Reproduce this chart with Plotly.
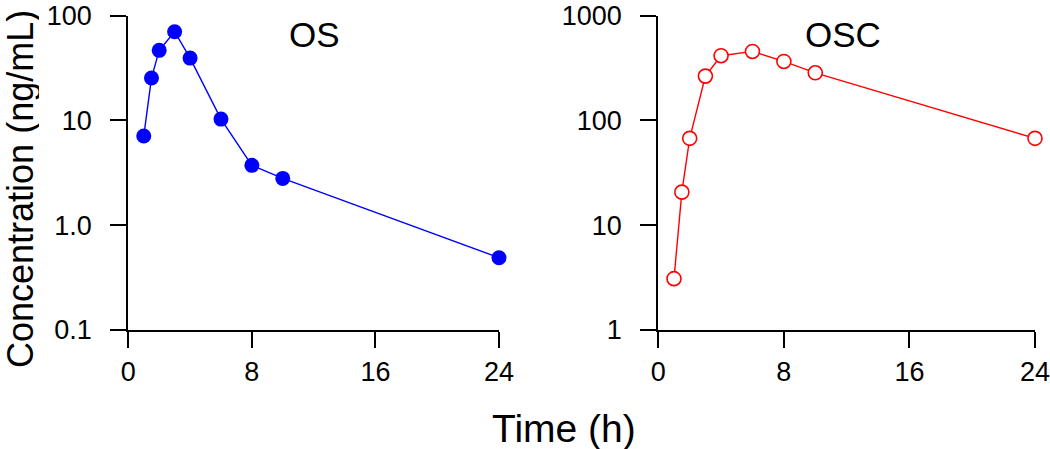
import plotly.graph_objects as go

# ---- data ----
time_h = [1, 1.5, 2, 3, 4, 6, 8, 10, 24]
os_conc = [7.1, 25.4, 46.7, 70.3, 39.4, 10.3, 3.73, 2.80, 0.49]
osc_conc = [3.09, 20.7, 67.5, 265, 415, 456, 366, 285, 67.5]

x_ticks = [0, 8, 16, 24]
x_ticktext = ["0", "8", "16", "24"]
os_yticks = [0.1, 1, 10, 100]
os_yticktext = ["0.1", "1.0", "10", "100"]
osc_yticks = [1, 10, 100, 1000]
osc_yticktext = ["1", "10", "100", "1000"]

W, H = 1050, 449
FONT = "Liberation Sans, Arial, sans-serif"

fig = go.Figure()
fig.add_trace(go.Scatter(
    x=time_h, y=os_conc, mode="lines+markers", xaxis="x", yaxis="y",
    line=dict(color="#0000ff", width=1.4),
    marker=dict(color="#0000ff", size=15, line=dict(width=0)),
    cliponaxis=False, showlegend=False))
fig.add_trace(go.Scatter(
    x=time_h, y=osc_conc, mode="lines+markers", xaxis="x2", yaxis="y2",
    line=dict(color="#ff0000", width=1.4),
    marker=dict(color="white", size=14, symbol="circle",
                line=dict(color="#ff0000", width=1.6)),
    cliponaxis=False, showlegend=False))

def px_x(p):
    return p / W

def px_y(p):
    return (H - p) / H

common_x = dict(range=[0, 24], tickvals=x_ticks, ticktext=x_ticktext,
                showline=True, linecolor="black", linewidth=2,
                ticks="outside", ticklen=16, tickwidth=2, tickcolor="black",
                showgrid=False, zeroline=False, automargin=False,
                ticklabeloverflow="allow",
                tickfont=dict(family=FONT, size=27, color="black"),
                ticklabelstandoff=1)
common_y = dict(type="log", showline=True, linecolor="black", linewidth=2,
                ticks="outside", ticklen=16, tickwidth=2, tickcolor="black",
                showgrid=False, zeroline=False, automargin=False,
                ticklabeloverflow="allow",
                tickfont=dict(family=FONT, size=27, color="black"),
                ticklabelstandoff=13)

fig.update_layout(
    width=W, height=H,
    margin=dict(l=0, r=0, t=0, b=0),
    paper_bgcolor="white", plot_bgcolor="white",
    xaxis=dict(domain=[px_x(128.3), px_x(499)], anchor="y", **common_x),
    yaxis=dict(domain=[px_y(330), px_y(15.7)], anchor="x", range=[-1, 2],
               tickvals=os_yticks, ticktext=os_yticktext, **common_y),
    xaxis2=dict(domain=[px_x(658.3), px_x(1035)], anchor="y2", **common_x),
    yaxis2=dict(domain=[px_y(330), px_y(15.7)], anchor="x2", range=[0, 3],
                tickvals=osc_yticks, ticktext=osc_yticktext, **common_y),
    annotations=[
        dict(text="OS", xref="paper", yref="paper", x=px_x(314), y=px_y(35),
             xanchor="center", yanchor="middle", showarrow=False,
             font=dict(family=FONT, size=35, color="black")),
        dict(text="OSC", xref="paper", yref="paper", x=px_x(843), y=px_y(35),
             xanchor="center", yanchor="middle", showarrow=False,
             font=dict(family=FONT, size=35, color="black")),
        dict(text="Concentration (ng/mL)", xref="paper", yref="paper",
             x=px_x(20), y=px_y(189), textangle=-90, height=38,
             xanchor="center", yanchor="middle", showarrow=False,
             font=dict(family=FONT, size=36, color="black")),
        dict(text="Time (h)", xref="paper", yref="paper",
             x=px_x(564), y=px_y(428),
             xanchor="center", yanchor="middle", showarrow=False,
             font=dict(family=FONT, size=39, color="black")),
    ],
)

fig.write_html(
    "out.html",
    config={"displayModeBar": False},
    post_script="document.body.style.margin='0px';"
                "document.body.style.overflow='hidden';")
